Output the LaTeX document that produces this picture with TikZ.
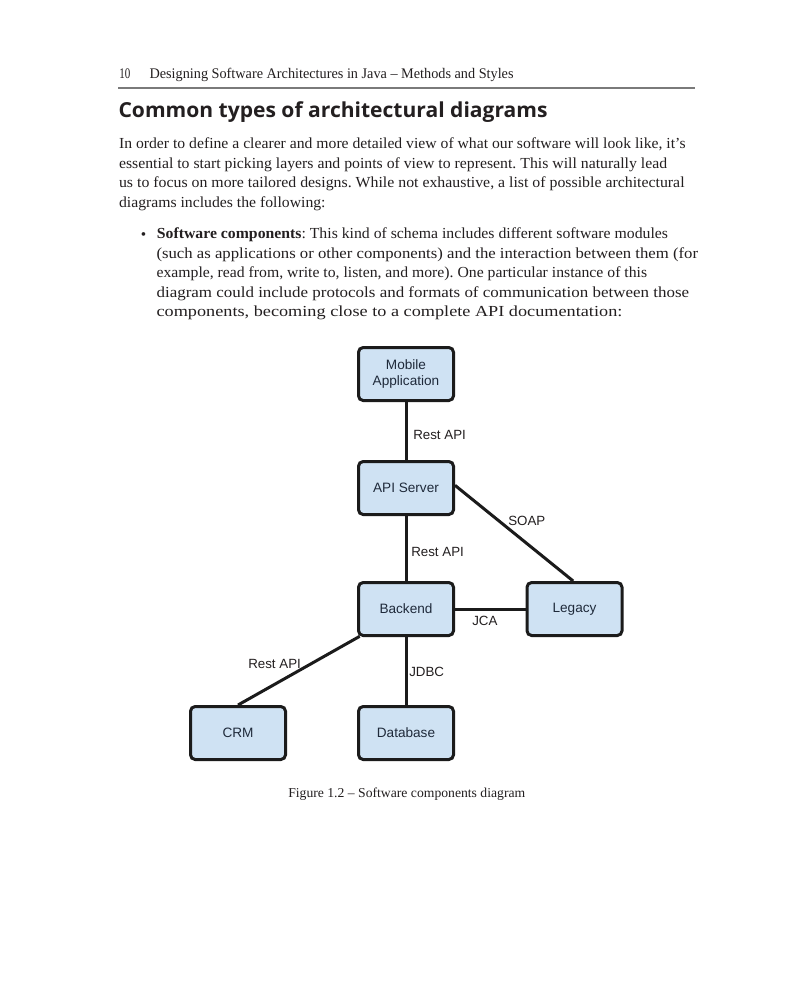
\documentclass[tikz,border=0pt]{standalone}
\usepackage{graphicx}
\usepackage{fontspec}
\setmainfont{Liberation Serif}
\newfontfamily\dsans{Liberation Sans}
\newfontfamily\titlefont{Open Sans}
\newlength\pxu
\setlength\pxu{0.75pt}
\newcommand\fitline[2]{\resizebox{#1\pxu}{\height}{#2}}
\definecolor{boxfill}{HTML}{CFE2F3}
\definecolor{boxline}{HTML}{1B1B1B}
\definecolor{ink}{HTML}{231F20}
\definecolor{nodeink}{HTML}{1F2A3A}
\definecolor{rulegray}{HTML}{7A7A7A}
\frenchspacing
\begin{document}
\begin{tikzpicture}[x=0.75pt,y=-0.75pt,
  comp/.style={draw=boxline, line width=2.25pt, fill=boxfill, rounded corners=3.5pt,
    minimum width=71.25pt, minimum height=39.75pt, inner sep=0pt, align=center,
    font=\dsans\fontsize{10.2}{11.8}\selectfont, text=nodeink},
  link/.style={draw=boxline, line width=2.25pt},
  lbl/.style={font=\dsans\fontsize{10}{12}\selectfont, text=ink, inner sep=0pt, anchor=west},
  body/.style={font=\fontsize{11.5}{14}\selectfont, text=ink, inner sep=0pt, anchor=base west},
  head/.style={font=\fontsize{11}{13}\selectfont, text=ink, inner sep=0pt, anchor=base west},
  ttl/.style={font=\titlefont\bfseries\fontsize{15.5}{18}\selectfont, text=ink, inner sep=0pt, anchor=base west},
  figcap/.style={font=\fontsize{10.2}{12}\selectfont, text=ink, inner sep=0pt, anchor=base west}]
\fill[white] (0,0) rectangle (800,997);
\useasboundingbox (0,0) rectangle (800,997);

% header
\node[head] (pgnum) at (119,78) {\fitline{11}{10}};
\node[head] (runhead) at (149.3,78) {\fitline{364}{Designing Software Architectures in Java \textendash{} Methods and Styles}};
\coordinate (ruleL) at (118,88);
\coordinate (ruleR) at (695,88);
\draw[rulegray, line width=0.9pt] (ruleL) -- (ruleR);

% title
\node[ttl] (title) at (118.3,117.3) {\fitline{429}{Common types of architectural diagrams}};

% paragraph
\node[body] (p1) at (118.8,148.5) {\fitline{566.5}{In order to define a clearer and more detailed view of what our software will look like, it’s}};
\node[body] (p2) at (118.8,168.1) {\fitline{548}{essential to start picking layers and points of view to represent. This will naturally lead}};
\node[body] (p3) at (118.8,187.7) {\fitline{565.5}{us to focus on more tailored designs. While not exhaustive, a list of possible architectural}};
\node[body] (p4) at (118.8,207.3) {\fitline{206.5}{diagrams includes the following:}};

% bullet
\node[body, anchor=center] (bul) at (143.5,236) {•};
\node[body] (b1) at (156.7,238.5) {\fitline{511}{\textbf{Software components}: This kind of schema includes different software modules}};
\node[body] (b2) at (156.3,258.1) {\fitline{541.5}{(such as applications or other components) and the interaction between them (for}};
\node[body] (b3) at (156.3,277.7) {\fitline{490.5}{example, read from, write to, listen, and more). One particular instance of this}};
\node[body] (b4) at (156.3,297.3) {\fitline{532.5}{diagram could include protocols and formats of communication between those}};
\node[body] (b5) at (156.3,316.9) {\fitline{465.8}{components, becoming close to a complete API documentation:}};

% diagram nodes
\node[comp] (mobile) at (406,374) {Mobile\\Application};
\node[comp] (api) at (406,488) {API Server};
\node[comp] (backend) at (406,609) {Backend};
\node[comp] (legacy) at (574.5,609) {Legacy};
\node[comp] (crm) at (238,733) {CRM};
\node[comp] (db) at (406,733) {Database};

% connectors
\draw[link] (mobile.south) -- (api.north);
\draw[link] (api.south) -- (backend.north);
\draw[link] ([yshift=2pt]api.east) -- ([xshift=-1pt]legacy.north);
\draw[link] (backend.east) -- (legacy.west);
\draw[link] ([xshift=2pt,yshift=0.5pt]backend.south west) -- (crm.north);
\draw[link] (backend.south) -- (db.north);

% labels
\node[lbl] (l1) at (413,435) {Rest API};
\node[lbl] (l2) at (411,552) {Rest API};
\node[lbl] (l3) at (508,520.7) {SOAP};
\node[lbl] (l4) at (472,620.7) {JCA};
\node[lbl] (l5) at (248,664) {Rest API};
\node[lbl] (l6) at (409,671.7) {JDBC};

% caption
\node[figcap] (caption) at (288,797) {\fitline{237}{Figure 1.2 \textendash{} Software components diagram}};
\end{tikzpicture}
\end{document}
